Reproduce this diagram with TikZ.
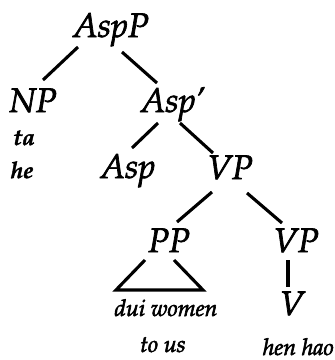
\documentclass[tikz,border=0pt]{standalone}
\usepackage[T1]{fontenc}
\usepackage{mathpazo}
% slightly heavier strokes for the printed look of the labels
\newcommand{\heavyink}[1]{\special{pdf:literal direct 2 Tr #1 w}}
\begin{document}
\begin{tikzpicture}[x=1pt,y=-1pt,
  cat/.style={anchor=base,inner sep=0pt,font=\fontsize{34}{34}\selectfont\itshape\heavyink{0.7}},
  gloss/.style={anchor=base,inner sep=0pt,font=\fontsize{23}{23}\selectfont\itshape\heavyink{0.6}},
  boldgloss/.style={anchor=base,inner sep=0pt,font=\fontsize{23}{23}\selectfont\bfseries\itshape\heavyink{0.4}},
  branch/.style={line width=3.1pt,line cap=butt}]
\useasboundingbox (0,0) rectangle (335,360);
% category labels
\node[cat] (aspp) at (111,37) {AspP};
\node[cat] (np) at (33,112) {NP};
\node[cat] (aspbar) at (173,112) {Asp'};
\node[cat] (asp) at (128,178) {Asp};
\node[cat] (vp) at (230,179) {VP};
\node[cat] (pp) at (169,252) {PP};
\node[cat] (vpl) at (296,252) {VP};
\node[cat] (v) at (292,315) {V};
% lexical material
\node[boldgloss] (ta) at (24,145) {ta};
\node[boldgloss] (he) at (22,178) {he};
\node[gloss] (duiwomen) at (166,316) {dui women};
\node[gloss] (tous) at (163,352) {to us};
\node[gloss,anchor=base east] (henhao) at (334,355) {hen hao};
% branches
\draw[branch] ([shift={(-33,10)}]aspp.base) -- ([shift={(10,-32)}]np.base);
\draw[branch] ([shift={(11,15)}]aspp.base) -- ([shift={(-16,-29)}]aspbar.base);
\draw[branch] ([shift={(-15,11)}]aspbar.base) -- ([shift={(4,-30)}]asp.base);
\draw[branch] ([shift={(7,11)}]aspbar.base) -- ([shift={(-17,-26)}]vp.base);
\draw[branch] ([shift={(-18,13)}]vp.base) -- ([shift={(8,-30)}]pp.base);
\draw[branch] ([shift={(17,14)}]vp.base) -- ([shift={(-14,-29)}]vpl.base);
\draw[branch,line join=miter] ([shift={(-24,8)}]pp.base) -- ([shift={(-53,38)}]pp.base)
  -- ([shift={(34,38)}]pp.base) -- ([shift={(5,8)}]pp.base);
\draw[branch] ([shift={(-8,8)}]vpl.base) -- ([shift={(-4,-28)}]v.base);
\end{tikzpicture}
\end{document}
